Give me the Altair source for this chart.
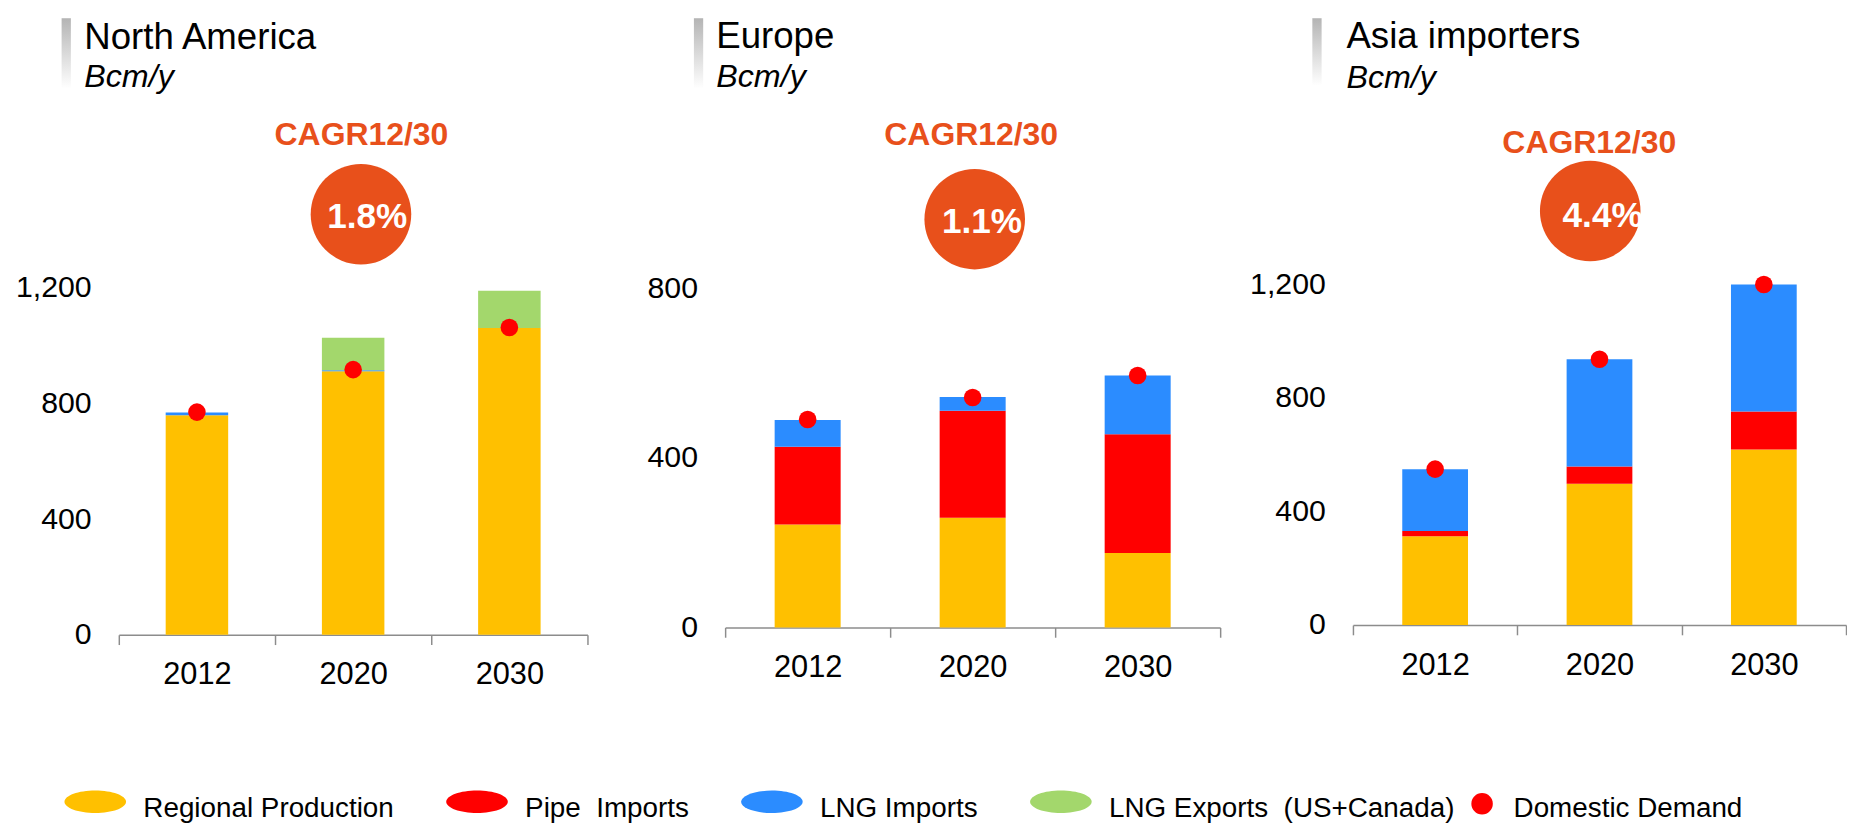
import altair as alt
import pandas as pd

FONT = "Liberation Sans"

# ---------------- data ----------------
years = ["2012", "2020", "2030"]
series_names = ["Regional Production", "Pipe\u00a0\u00a0Imports", "LNG Imports",
                "LNG Exports\u00a0\u00a0(US+Canada)"]
series_colors = ["#FFC000", "#FF0000", "#2B8CFF", "#A3D76C"]
demand_name = "Domestic Demand"
demand_color = "#FF0000"

regions = ["North America", "Europe", "Asia importers"]
unit_label = "Bcm/y"
cagr_label = "CAGR12/30"
cagr_values = ["1.8%", "1.1%", "4.4%"]

na_production = [760, 912, 1062]
na_pipe = [0, 0, 0]
na_lng_imports = [10, 4, 0]
na_lng_exports = [0, 112, 129]
na_demand = [771, 918, 1064]

eu_production = [243, 259, 176]
eu_pipe = [184, 253, 280]
eu_lng_imports = [63, 32, 139]
eu_lng_exports = [0, 0, 0]
eu_demand = [491, 543, 595]

as_production = [313, 498, 618]
as_pipe = [18, 60, 134]
as_lng_imports = [218, 378, 447]
as_lng_exports = [0, 0, 0]
as_demand = [549, 936, 1199]

na_ticks = [0, 400, 800, 1200]
eu_ticks = [0, 400, 800]
as_ticks = [0, 400, 800, 1200]

# ---------------- styling ----------------
ORANGE = "#E8501B"
AXIS_GRAY = "#8C8C8C"
ELLIPSE = "M-2.74,-0.55A2.74,1,0,1,1,2.74,-0.55A2.74,1,0,1,1,-2.74,-0.55Z"
DOT = "M-1,-0.38A1,1,0,1,1,1,-0.38A1,1,0,1,1,-1,-0.38Z"
GRADIENT = {"gradient": "linear", "x1": 0, "y1": 0, "x2": 0, "y2": 1,
            "stops": [{"offset": 0, "color": "#B4B4B4"},
                      {"offset": 1, "color": "#FFFFFF"}]}

color_legend = alt.Legend(
    title=None, orient="none", legendX=-38.4, legendY=522, direction="horizontal",
    symbolType=ELLIPSE, symbolSize=529, symbolStrokeWidth=0, symbolOpacity=1,
    labelFontSize=28.5, labelFont=FONT, labelColor="black", labelOffset=35,
    labelLimit=1000, columnPadding=52, labelBaseline="middle", padding=0)

fill_legend = alt.Legend(
    title=None, orient="none", legendX=1382, legendY=522, direction="horizontal",
    symbolType=DOT, symbolSize=484, symbolFillColor=demand_color,
    symbolStrokeWidth=0, symbolOpacity=1,
    labelFontSize=28.5, labelFont=FONT, labelColor="black", labelOffset=18,
    labelLimit=1000, labelBaseline="middle", padding=0)


def panel(idx, prod, pipe, lngi, lnge, demand, ymax, yticks, width, height, lay,
          min_extent=None):
    rows = []
    for s_i, vals in enumerate([prod, pipe, lngi, lnge]):
        for yr, v in zip(years, vals):
            if v > 0:
                rows.append({"year": yr, "series": series_names[s_i],
                             "ord": s_i, "value": v})
    bars_df = pd.DataFrame(rows)
    dem_df = pd.DataFrame({"year": years, "demand": demand,
                           "kind": [demand_name] * len(years)})
    ann = pd.DataFrame({"title": [regions[idx]], "unit": [unit_label],
                        "cagr": [cagr_label], "val": [cagr_values[idx]]})

    x_enc = alt.X("year:N", sort=years,
                  scale=alt.Scale(paddingInner=0, paddingOuter=0),
                  axis=alt.Axis(labelAngle=0, labelFontSize=31.5, labelFont=FONT,
                                labelColor="black", labelPadding=15.3,
                                tickSize=10, tickWidth=1.5, tickColor=AXIS_GRAY,
                                domainColor=AXIS_GRAY, domainWidth=1.5,
                                tickBand="extent", grid=False, title=None))
    y_axis_kw = dict(values=yticks, format=",d", domain=False, ticks=False,
                     tickSize=0, grid=False, labelFontSize=31, labelFont=FONT,
                     labelColor="black", labelPadding=28.3, labelFlush=False,
                     title=None)
    if min_extent is not None:
        y_axis_kw["minExtent"] = min_extent
    y_scale = alt.Scale(domain=[0, ymax], nice=False, zero=True)

    bars = alt.Chart(bars_df).mark_bar(strokeWidth=0, width={"band": 0.4}).encode(
        x=x_enc,
        y=alt.Y("value:Q", stack="zero", scale=y_scale, axis=alt.Axis(**y_axis_kw)),
        color=alt.Color("series:N",
                        scale=alt.Scale(domain=series_names, range=series_colors),
                        legend=color_legend),
        order=alt.Order("ord:Q", sort="ascending"),
    )
    points = alt.Chart(dem_df).mark_point(filled=True, size=324, shape="circle",
                                          strokeWidth=0, opacity=1).encode(
        x=x_enc,
        y=alt.Y("demand:Q", stack=None, scale=y_scale, axis=alt.Axis(**y_axis_kw)),
        fill=alt.Fill("kind:N",
                      scale=alt.Scale(domain=[demand_name], range=[demand_color]),
                      legend=fill_legend),
    )
    grad = alt.Chart(ann).mark_rect(color=GRADIENT).encode(
        x=alt.value(lay["gx"]), x2=alt.value(lay["gx"] + 9.5),
        y=alt.value(lay["gy1"]), y2=alt.value(lay["gy2"]))
    title = alt.Chart(ann).mark_text(align="left", baseline="alphabetic",
                                     fontSize=37.5, font=FONT, color="black").encode(
        text="title:N", x=alt.value(lay["tx"]), y=alt.value(lay["ty"]))
    unit = alt.Chart(ann).mark_text(align="left", baseline="alphabetic",
                                    fontSize=33, font=FONT, fontStyle="italic",
                                    color="black").encode(
        text="unit:N", x=alt.value(lay["tx"]), y=alt.value(lay["uy"]))
    cagr = alt.Chart(ann).mark_text(align="center", baseline="alphabetic",
                                    fontSize=32.7, font=FONT, fontWeight="bold",
                                    color=ORANGE).encode(
        text="cagr:N", x=alt.value(lay["cx"]), y=alt.value(lay["cy"]))
    circle = alt.Chart(ann).mark_point(filled=True, shape="circle", size=10609,
                                       color=ORANGE, opacity=1, strokeWidth=0).encode(
        x=alt.value(lay["ox"]), y=alt.value(lay["oy"]))
    val = alt.Chart(ann).mark_text(align="center", baseline="alphabetic",
                                   fontSize=36, font=FONT, fontWeight="bold",
                                   color="white").encode(
        text="val:N", x=alt.value(lay["vx"]), y=alt.value(lay["vy"]))

    return alt.layer(bars, points, grad, title, unit, cagr, circle, val).properties(
        width=width, height=height)


na_lay = dict(gx=-58.6, gy1=-272.5, gy2=-200.5, tx=-35.4, ty=-241.2, uy=-202.2,
              cx=248.5, cy=-142.2, ox=248, oy=-71.8, vx=254.5, vy=-57.8)
eu_lay = dict(gx=-32, gy1=-272.5, gy2=-200.5, tx=-9.1, ty=-241.5, uy=-202.2,
              cx=252, cy=-142.2, ox=255.6, oy=-66.7, vx=263, vy=-52.2)
as_lay = dict(gx=-41.6, gy1=-272.5, gy2=-203.5, tx=-6.7, ty=-242.2, uy=-201.5,
              cx=242, cy=-134.8, ox=243, oy=-75, vx=255.7, vy=-58.8)

p_na = panel(0, na_production, na_pipe, na_lng_imports, na_lng_exports, na_demand,
             1213.5, na_ticks, 480, 359, na_lay)
p_eu = panel(1, eu_production, eu_pipe, eu_lng_imports, eu_lng_exports, eu_demand,
             810.4, eu_ticks, 507, 351.5, eu_lay, min_extent=116.3)
p_as = panel(2, as_production, as_pipe, as_lng_imports, as_lng_exports, as_demand,
             1200, as_ticks, 505, 349, as_lay, min_extent=111.3)

chart = alt.hconcat(p_na, p_eu, p_as, spacing=23).resolve_scale(
    x="independent", y="independent", color="shared", fill="shared"
).resolve_legend(color="shared", fill="shared").properties(
    padding={"left": 7.5, "top": 0, "right": 0, "bottom": 0}
).configure(font=FONT).configure_view(stroke=None)

chart.save("out.html", embed_options={"renderer": "svg", "actions": False})
